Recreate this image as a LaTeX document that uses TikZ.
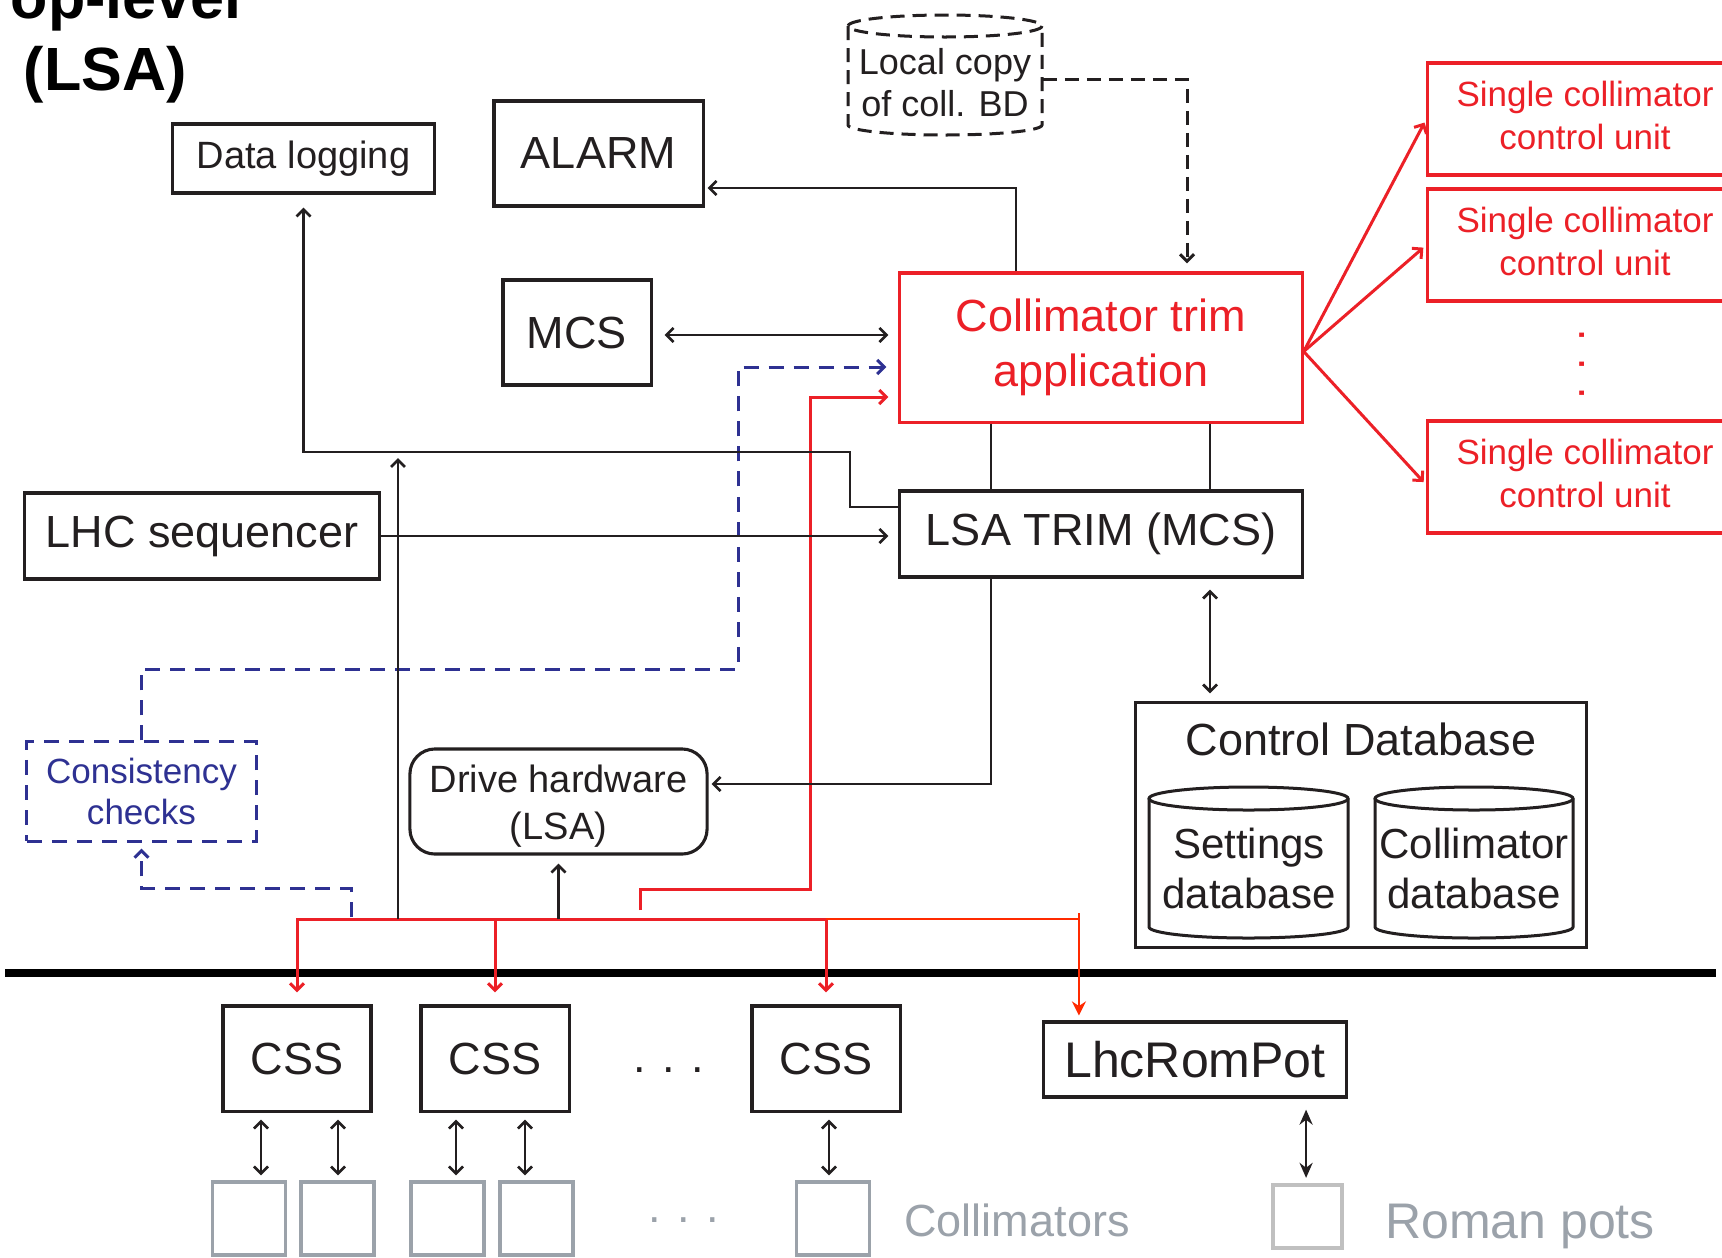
\documentclass[tikz,border=0pt]{standalone}
\usepackage{fontspec}
\setmainfont{Liberation Sans}
\usetikzlibrary{arrows.meta,calc}
\definecolor{cred}{RGB}{236,32,39}
\definecolor{corange}{RGB}{255,42,0}
\definecolor{cblue}{RGB}{46,49,146}
\definecolor{cgrey}{RGB}{155,162,170}
\definecolor{cgreyb}{RGB}{192,192,192}
\definecolor{ctxt}{RGB}{35,31,32}
\newcommand{\fsz}[2]{\fontsize{#1pt}{#2pt}\selectfont}
\begin{document}
\begin{tikzpicture}[x=0.01cm,y=-0.01cm,
  >={Straight Barb[length=0.07cm,width=0.14cm]},
  box/.style={draw=ctxt, text=ctxt, line width=0.031cm, inner sep=0pt, align=center},
  redbox/.style={draw=cred, text=cred, line width=0.031cm, inner sep=0pt, align=center},
  conn/.style={draw=ctxt, line width=0.027cm},
  dbl/.style={conn, <->},
  redline/.style={draw=cred, line width=0.03cm},
  orangeline/.style={draw=corange, line width=0.027cm},
  bluedash/.style={draw=cblue, line width=0.03cm, dash pattern=on 0.15cm off 0.1cm},
  blackdash/.style={draw=ctxt, line width=0.03cm, dash pattern=on 0.14cm off 0.08cm},
  greybox/.style={draw=cgrey, line width=0.032cm, minimum width=0.73cm, minimum height=0.73cm, inner sep=0pt},
  plain/.style={inner sep=0pt, align=center, text=ctxt},
]
\path[fill=white,use as bounding box] (0,0) rectangle (1722,1257);

% title
\node[plain, anchor=base west, text=black, font=\fsz{17.36}{20}\bfseries] (t1) at (10,18) {op-level};
\node[plain, anchor=base west, text=black, font=\fsz{17.36}{20}\bfseries] (t2) at (23,90) {(LSA)};

% top-level nodes
\node[box, minimum width=2.61cm, minimum height=0.69cm, font=\fsz{10.81}{13}] (datalog) at (303.5,158.5) {Data logging};
\node[box, minimum width=2.09cm, minimum height=1.05cm, font=\fsz{12.8}{15}] (alarm) at (598.5,153.5) {ALARM};
\node[box, minimum width=1.48cm, minimum height=1.05cm, font=\fsz{12.8}{15}] (mcs) at (577,332.5) {MCS};
\node[redbox, minimum width=4.02cm, minimum height=1.49cm, font=\fsz{12.8}{15.65}] (trim) at (1101,347.5) {Collimator trim\\application};
\node[box, minimum width=4.02cm, minimum height=0.86cm, font=\fsz{12.8}{15}] (lsatrim) at (1101,534) {LSA TRIM (MCS)};
\node[box, minimum width=3.54cm, minimum height=0.86cm, font=\fsz{12.8}{15}] (lhcseq) at (202,536) {LHC sequencer};

% single collimator control units
\node[redbox, minimum width=3.14cm, minimum height=1.12cm] (scu1) at (1585,119) {};
\node[redbox, minimum width=3.14cm, minimum height=1.12cm] (scu2) at (1585,245) {};
\node[redbox, minimum width=3.14cm, minimum height=1.12cm] (scu3) at (1585,477) {};
\node[plain, text=cred, font=\fsz{9.96}{12.23}] (scu1t) at (1585,115) {Single collimator\\control unit};
\node[plain, text=cred, font=\fsz{9.96}{12.23}] (scu2t) at (1585,241) {Single collimator\\control unit};
\node[plain, text=cred, font=\fsz{9.96}{12.23}] (scu3t) at (1585,473) {Single collimator\\control unit};
\node[plain, rotate=90, text=cred, font=\fsz{12.8}{15}] (vdots) at (1582,364) {. . .};

% local copy cylinder (dashed)
\draw[blackdash] (848,26) -- (848,125) arc[start angle=180,end angle=0,x radius=97,y radius=10] -- (1042,26);
\draw[blackdash] (945,26) ellipse [x radius=97, y radius=11];
\node[plain, minimum width=1.94cm, font=\fsz{10.24}{11.9}] (lc) at (945,83) {Local copy\\of coll. BD};

% consistency checks
\node[draw=cblue, text=cblue, line width=0.03cm, dash pattern=on 0.15cm off 0.1cm, minimum width=2.29cm, minimum height=0.99cm, inner sep=0pt, align=center, font=\fsz{9.96}{11.9}] (consist) at (141.5,791.5) {Consistency\\checks};

% drive hardware
\node[box, rounded corners=0.25cm, minimum width=2.97cm, minimum height=1.05cm] (drive) at (558.5,801.5) {};
\node[plain, font=\fsz{10.81}{13.4}] (drivet) at (558.5,806) {Drive hardware\\(LSA)};

% control database
\node[box, minimum width=4.5cm, minimum height=2.44cm] (ctrldb) at (1361,825) {};
\node[plain, font=\fsz{12.8}{15}] (ctrltitle) at (1361,739) {Control Database};
\draw[conn, line width=0.03cm] (1149,798.5) -- (1149,927) arc[start angle=180,end angle=0,x radius=99.5,y radius=11] -- (1348,798.5);
\draw[conn, line width=0.03cm] (1248.5,798.5) ellipse [x radius=99.5, y radius=11.5];
\draw[conn, line width=0.03cm] (1375,798.5) -- (1375,927) arc[start angle=180,end angle=0,x radius=99,y radius=11] -- (1573,798.5);
\draw[conn, line width=0.03cm] (1474,798.5) ellipse [x radius=99, y radius=11.5];
\node[plain, font=\fsz{11.95}{14.23}] (setdb) at (1249,868) {Settings\\database};
\node[plain, font=\fsz{11.95}{14.23}] (colldb) at (1474,868) {Collimator\\database};

% separator line
\draw[line width=0.08cm, black] (5,973) -- (1716,973);

% front-end nodes
\node[box, minimum width=1.48cm, minimum height=1.05cm, font=\fsz{12.8}{15}] (css1) at (297,1058.5) {CSS};
\node[box, minimum width=1.48cm, minimum height=1.05cm, font=\fsz{12.8}{15}] (css2) at (495,1058.5) {CSS};
\node[box, minimum width=1.48cm, minimum height=1.05cm, font=\fsz{12.8}{15}] (css3) at (826,1058.5) {CSS};
\node[plain, anchor=base, font=\fsz{12.8}{15}] (cssdots) at (669,1072) {. . .};
\node[box, minimum width=3.02cm, minimum height=0.75cm, font=\fsz{14.23}{17}] (lhcrp) at (1195,1059.5) {LhcRomPot};

% collimators and roman pot
\node[greybox] (col1) at (249,1218.5) {};
\node[greybox] (col2) at (337.5,1218.5) {};
\node[greybox] (col3) at (447.5,1218.5) {};
\node[greybox] (col4) at (536.5,1218.5) {};
\node[greybox] (col5) at (833,1218.5) {};
\node[plain, anchor=base, text=cgrey, font=\fsz{12.8}{15}] (coldots) at (684,1222) {. . .};
\node[plain, anchor=base, text=cgrey, font=\fsz{12.8}{15}] (colltxt) at (1017,1236) {Collimators};
\node[draw=cgreyb, line width=0.042cm, minimum width=0.69cm, minimum height=0.63cm, inner sep=0pt] (rp) at (1307.5,1216.5) {};
\node[plain, anchor=base, text=cgrey, font=\fsz{14.23}{17}] (rptxt) at (1520,1238) {Roman pots};

% helper coordinates
\coordinate (alarmin) at ([yshift=-0.345cm]alarm.east);
\coordinate (alarmout) at ([xshift=-0.85cm]trim.north);
\coordinate (lcout) at ([yshift=0.04cm]lc.east);
\coordinate (lcin) at ([xshift=0.86cm]trim.north);
\coordinate (mcsout) at ([yshift=-0.025cm]mcs.east);
\coordinate (bluein) at ([yshift=-0.195cm]trim.west);
\coordinate (redin) at ([yshift=-0.495cm]trim.west);
\coordinate (trimout) at ([yshift=-0.04cm]trim.east);
\coordinate (scu3in) at ([yshift=-0.08cm]scu3.west);
\coordinate (tl) at ([xshift=-1.1cm]trim.south);
\coordinate (tr) at ([xshift=1.09cm]trim.south);
\coordinate (ll) at ([xshift=-1.1cm]lsatrim.south);
\coordinate (lr) at ([xshift=1.09cm]lsatrim.south);
\coordinate (dlout) at ([yshift=0.27cm]lsatrim.west);
\coordinate (dlbend) at (850,452);
\coordinate (drivein) at ([yshift=0.175cm]drive.east);
\coordinate (bus) at (561,919);
\coordinate (j1) at (398,919);
\coordinate (bluestart) at (351,917);
\coordinate (redstart) at (640,910);
\coordinate (rpin) at ([xshift=-1.16cm]lhcrp.north);

% connectors
\draw[conn,->,shorten >=0.03cm] (alarmout) |- (alarmin);
\draw[blackdash,->,shorten >=0.08cm] (lcout) -| (lcin);
\draw[dbl,shorten <=0.12cm,shorten >=0.1cm] (mcsout) -- (mcsout -| trim.west);
\draw[bluedash,->,shorten >=0.12cm] (consist.north) |- (738,669) |- (bluein);
\draw[bluedash,->,shorten >=0.06cm] (bluestart) -- (351,888) -| (consist.south);
\draw[redline,->,shorten >=0.1cm] (redstart) |- (810,889) |- (redin);
\draw[redline,->,shorten >=0.04cm] (trimout) -- (scu1.west);
\draw[redline,->,shorten >=0.04cm] (trimout) -- (scu2.west);
\draw[redline,->,shorten >=0.04cm] (trimout) -- (scu3in);
\draw[conn] (tl) -- (tl |- lsatrim.north);
\draw[conn] (tr) -- (tr |- lsatrim.north);
\draw[conn,->,shorten >=0.13cm] (dlout) -| (dlbend) -| (datalog.south);
\draw[conn,->,shorten >=0.1cm] (lhcseq.east) -- (lhcseq.east -| lsatrim.west);
\draw[conn,->,shorten >=0.03cm] (ll) |- (drivein);
\draw[dbl,shorten <=0.11cm,shorten >=0.08cm] (lr) -- (lr |- ctrldb.north);

% bus
\draw[redline,<->,shorten <=0.12cm,shorten >=0.12cm] (css1.north) -- (css1.north |- bus) -- (css3.north |- bus) -- (css3.north);
\draw[redline,->,shorten >=0.12cm] (css2.north |- bus) -- (css2.north);
\draw[orangeline,-{Stealth[length=0.14cm,width=0.14cm]},shorten >=0.05cm] (css3.north |- bus) -- (rpin |- bus) -- (rpin);
\draw[orangeline] (rpin |- bus) -- ++(0,-6);
\draw[conn,->,shorten >=0.06cm] (j1) -- (j1 |- dlbend);
\draw[conn,->,shorten >=0.08cm] (drive.south |- bus) -- (drive.south);

% CSS to collimators
\coordinate (a1) at ([xshift=-0.36cm]css1.south);
\coordinate (a2) at ([xshift=0.41cm]css1.south);
\coordinate (a3) at ([xshift=-0.39cm]css2.south);
\coordinate (a4) at ([xshift=0.30cm]css2.south);
\coordinate (a5) at ([xshift=0.03cm]css3.south);
\coordinate (a6) at ([xshift=1.11cm]lhcrp.south);
\draw[dbl,shorten <=0.07cm,shorten >=0.05cm] (a1) -- (a1 |- col1.north);
\draw[dbl,shorten <=0.07cm,shorten >=0.05cm] (a2) -- (a2 |- col2.north);
\draw[dbl,shorten <=0.07cm,shorten >=0.05cm] (a3) -- (a3 |- col3.north);
\draw[dbl,shorten <=0.07cm,shorten >=0.05cm] (a4) -- (a4 |- col4.north);
\draw[dbl,shorten <=0.07cm,shorten >=0.05cm] (a5) -- (a5 |- col5.north);
\draw[conn,{Stealth[length=0.15cm,width=0.13cm]}-{Stealth[length=0.15cm,width=0.13cm]},shorten <=0.11cm,shorten >=0.05cm] (a6) -- (a6 |- rp.north);
\end{tikzpicture}
\end{document}
